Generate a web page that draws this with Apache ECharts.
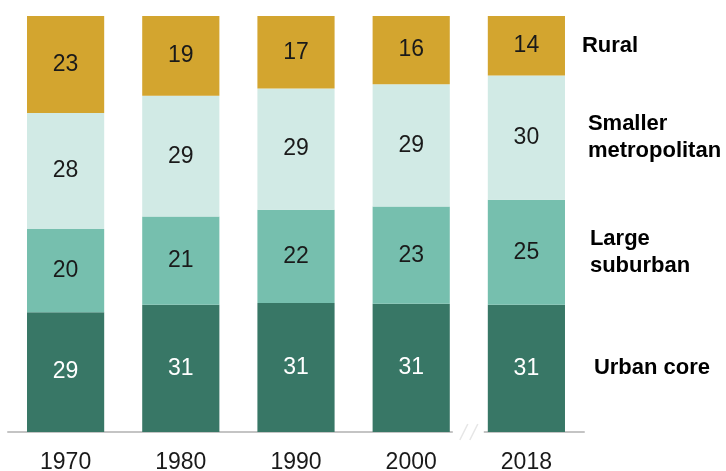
<!DOCTYPE html>
<html>
<head>
<meta charset="utf-8">
<script src="https://cdn.jsdelivr.net/npm/echarts@6/dist/echarts.min.js"></script>
<style>
html,body{margin:0;padding:0;background:#fff;}
#c{width:726px;height:471px;}
</style>
</head>
<body>
<div id="c"></div>
<script>
var years = ['1970', '1980', '1990', '2000', '2018'];
var urbanCore = [28.8, 30.6, 31.0, 30.8, 30.6];
var largeSuburban = [20.0, 21.2, 22.4, 23.4, 25.2];
var smallerMetro = [27.9, 29.0, 29.2, 29.4, 29.9];
var rural = [23.3, 19.2, 17.4, 16.4, 14.3];
var seriesNames = ['Urban core', 'Large\nsuburban', 'Smaller\nmetropolitan', 'Rural'];
var seriesColors = ['#387766', '#76BFAE', '#D1EAE5', '#D3A52F'];
var labelColors = ['#ffffff', '#1a1a1a', '#1a1a1a', '#1a1a1a'];
var nameDistances = [67, 63, 61, 55];

var chart = echarts.init(document.getElementById('c'));
var allData = [urbanCore, largeSuburban, smallerMetro, rural];
var last = years.length - 1;
var cum = 0;
var series = allData.map(function (d, i) {
  var mid = cum + d[last] / 2;
  cum += d[last];
  return {
    type: 'bar',
    name: seriesNames[i],
    stack: 'total',
    data: d,
    barCategoryGap: '33%',
    itemStyle: { color: seriesColors[i] },
    label: {
      show: true,
      position: 'inside',
      color: labelColors[i],
      fontSize: 23,
      fontFamily: 'Liberation Sans, Arial, sans-serif',
      formatter: function (p) { return Math.round(p.value); }
    },
    emphasis: { disabled: true },
    markPoint: {
      symbol: 'circle',
      symbolSize: 1,
      itemStyle: { color: 'rgba(0,0,0,0)' },
      silent: true,
      data: [{ coord: [years[last], mid], value: seriesNames[i] }],
      label: {
        show: true,
        position: 'right',
        distance: nameDistances[i],
        align: 'left',
        color: '#000',
        fontSize: 22,
        fontWeight: 'bold',
        lineHeight: 27,
        fontFamily: 'Liberation Sans, Arial, sans-serif',
        formatter: function () { return seriesNames[i]; }
      }
    }
  };
});

chart.setOption({
  animation: false,
  grid: { left: 8, right: 142, top: 16, bottom: 39, containLabel: false, outerBoundsMode: 'none' },
  xAxis: {
    type: 'category',
    data: years,
    axisLine: { show: true, lineStyle: { color: '#c4c4c4', width: 2 } },
    axisTick: { show: false },
    axisLabel: {
      margin: 19,
      color: '#1a1a1a',
      fontSize: 23,
      fontFamily: 'Liberation Sans, Arial, sans-serif'
    }
  },
  yAxis: {
    type: 'value',
    min: 0,
    max: 100,
    show: false,
    splitLine: { show: false }
  },
  series: series
});

var xa = chart.convertToPixel({ xAxisIndex: 0 }, years[last - 1]);
var xb = chart.convertToPixel({ xAxisIndex: 0 }, years[last]);
var y0 = chart.convertToPixel({ yAxisIndex: 0 }, 0);
var mx = (xa + xb) / 2;
chart.setOption({
  graphic: [
    { type: 'rect', shape: { x: mx - 16, y: y0 - 3, width: 31, height: 6 }, style: { fill: '#fff' }, z: 100 },
    { type: 'line', shape: { x1: mx - 9, y1: y0 + 8, x2: mx - 1, y2: y0 - 8 }, style: { stroke: '#e6e6e6', lineWidth: 1.5 }, z: 101 },
    { type: 'line', shape: { x1: mx + 1, y1: y0 + 8, x2: mx + 9, y2: y0 - 8 }, style: { stroke: '#e6e6e6', lineWidth: 1.5 }, z: 101 }
  ]
});
</script>
</body>
</html>
